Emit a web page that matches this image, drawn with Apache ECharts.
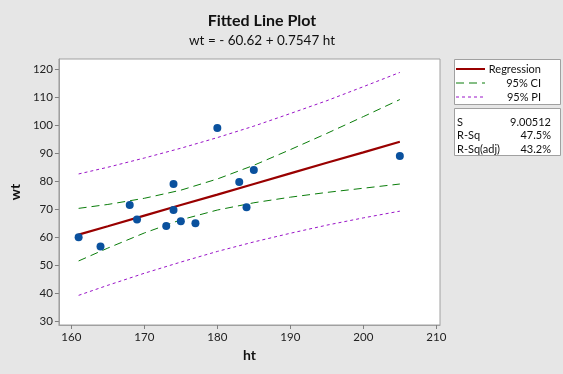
<!DOCTYPE html>
<html><head><meta charset="utf-8">
<script src="https://cdn.jsdelivr.net/npm/echarts@6/dist/echarts.min.js"></script>
<style>html,body{margin:0;padding:0;background:#e6e6e6}#c{width:563px;height:374px}</style>
</head><body><div id="c"></div>
<script>
// observed points
const ht = [161,164,168,169,173,174,174,175,177,180,183,184,185,205];
const wt = [60,56.7,71.5,66.3,64,79,69.7,65.7,65,99,79.7,70.7,84,89];
// curve positions (ht) and values
const fitX = [161,165,170,175,180,185,190,195,200,205];
const fitY = [60.9,63.9,67.7,71.5,75.2,79.0,82.8,86.6,90.3,94.1];
const ciUpper = [70.3,71.7,73.9,76.8,80.8,85.7,91.3,97.1,103.1,109.2];
const ciLower = [51.5,56.1,61.5,66.2,69.7,72.3,74.3,76.0,77.5,79.0];
const piUpper = [82.6,85.0,88.3,91.8,95.6,99.7,104.2,108.8,113.8,118.9];
const piLower = [39.2,42.8,47.1,51.1,54.9,58.3,61.4,64.3,66.9,69.3];
const xTicks = [160,170,180,190,200,210];
const yTicks = [30,40,50,60,70,80,90,100,110,120];
const statNames = ['S','R-Sq','R-Sq(adj)'];
const statVals = ['9.00512','47.5%','43.2%'];

const FONT = 'Lato';
const pair = (xs, ys) => xs.map((x, i) => [x, ys[i]]);
const chart = echarts.init(document.getElementById('c'));
const ciStyle = {color:'#0a7d0a', width:1, type:[8,5]};
const piStyle = {color:'#9a14c8', width:1, type:[3,3]};
const lineSeries = (data, style) => ({type:'line', data, showSymbol:false, symbol:'none', lineStyle:style, z:2, silent:true, animation:false});

const graphic = [
  {type:'text', x:262, y:21, style:{text:'Fitted Line Plot', font:'bold 16px '+FONT, fill:'#111', textAlign:'center', textVerticalAlign:'middle'}},
  {type:'text', x:262, y:41, style:{text:'wt = - 60.62 + 0.7547 ht', font:'13.5px '+FONT, fill:'#111', textAlign:'center', textVerticalAlign:'middle'}},
  {type:'rect', shape:{x:454.5, y:59.5, width:106, height:45}, style:{fill:'#fff', stroke:'#a0a0a0', lineWidth:1}},
  {type:'rect', shape:{x:454.5, y:108.5, width:106, height:47}, style:{fill:'#fff', stroke:'#a0a0a0', lineWidth:1}},
  {type:'line', shape:{x1:456, y1:69, x2:485, y2:69}, style:{stroke:'#990000', lineWidth:2}},
  {type:'line', shape:{x1:456, y1:83, x2:485, y2:83}, style:{stroke:'#0a7d0a', lineWidth:1, lineDash:[8,5]}},
  {type:'line', shape:{x1:456, y1:97, x2:485, y2:97}, style:{stroke:'#9a14c8', lineWidth:1, lineDash:[3,3]}},
  {type:'text', x:541, y:69, style:{text:'Regression', font:'11px '+FONT, fill:'#111', textAlign:'right', textVerticalAlign:'middle'}},
  {type:'text', x:541, y:83, style:{text:'95% CI', font:'11px '+FONT, fill:'#111', textAlign:'right', textVerticalAlign:'middle'}},
  {type:'text', x:541, y:97, style:{text:'95% PI', font:'11px '+FONT, fill:'#111', textAlign:'right', textVerticalAlign:'middle'}}
];
statNames.forEach((n, i) => {
  graphic.push({type:'text', x:457, y:122 + i*13.5, style:{text:n, font:'11px '+FONT, fill:'#111', textVerticalAlign:'middle'}});
  graphic.push({type:'text', x:551, y:122 + i*13.5, style:{text:statVals[i], font:'11px '+FONT, fill:'#111', textAlign:'right', textVerticalAlign:'middle'}});
});

chart.setOption({
  backgroundColor:'#e6e6e6',
  animation:false,
  textStyle:{fontFamily:FONT},
  grid:{left:57, top:59, right:123, bottom:49, show:true, backgroundColor:'#fff', borderColor:'#a0a0a0', borderWidth:1},
  xAxis:{type:'value', min:158.3, max:210.5, name:'ht', nameLocation:'middle', nameGap:23,
    nameTextStyle:{fontFamily:FONT, fontWeight:'bold', fontSize:14, color:'#111'},
    axisLine:{show:true, onZero:false, lineStyle:{color:'#a0a0a0'}},
    axisTick:{show:true, length:4, lineStyle:{color:'#808080'}, customValues:xTicks},
    axisLabel:{color:'#222', fontSize:11.5, fontFamily:FONT, customValues:xTicks, margin:6},
    splitLine:{show:false}},
  yAxis:{type:'value', min:28.6, max:123.7, name:'wt', nameLocation:'middle', nameGap:30, nameRotate:90,
    nameTextStyle:{fontFamily:FONT, fontWeight:'bold', fontSize:14, color:'#111'},
    axisLine:{show:true, onZero:false, lineStyle:{color:'#a0a0a0'}},
    axisTick:{show:true, length:4, lineStyle:{color:'#808080'}, customValues:yTicks},
    axisLabel:{color:'#222', fontSize:11.5, fontFamily:FONT, customValues:yTicks, margin:6},
    splitLine:{show:false}},
  series:[
    lineSeries(pair(fitX, piUpper), piStyle),
    lineSeries(pair(fitX, piLower), piStyle),
    lineSeries(pair(fitX, ciUpper), ciStyle),
    lineSeries(pair(fitX, ciLower), ciStyle),
    lineSeries(pair(fitX, fitY), {color:'#990000', width:2.2}),
    {type:'scatter', data:pair(ht, wt), symbol:'circle', symbolSize:8, itemStyle:{color:'#0a519e', opacity:1}, z:5, silent:true}
  ],
  graphic
});
</script></body></html>
